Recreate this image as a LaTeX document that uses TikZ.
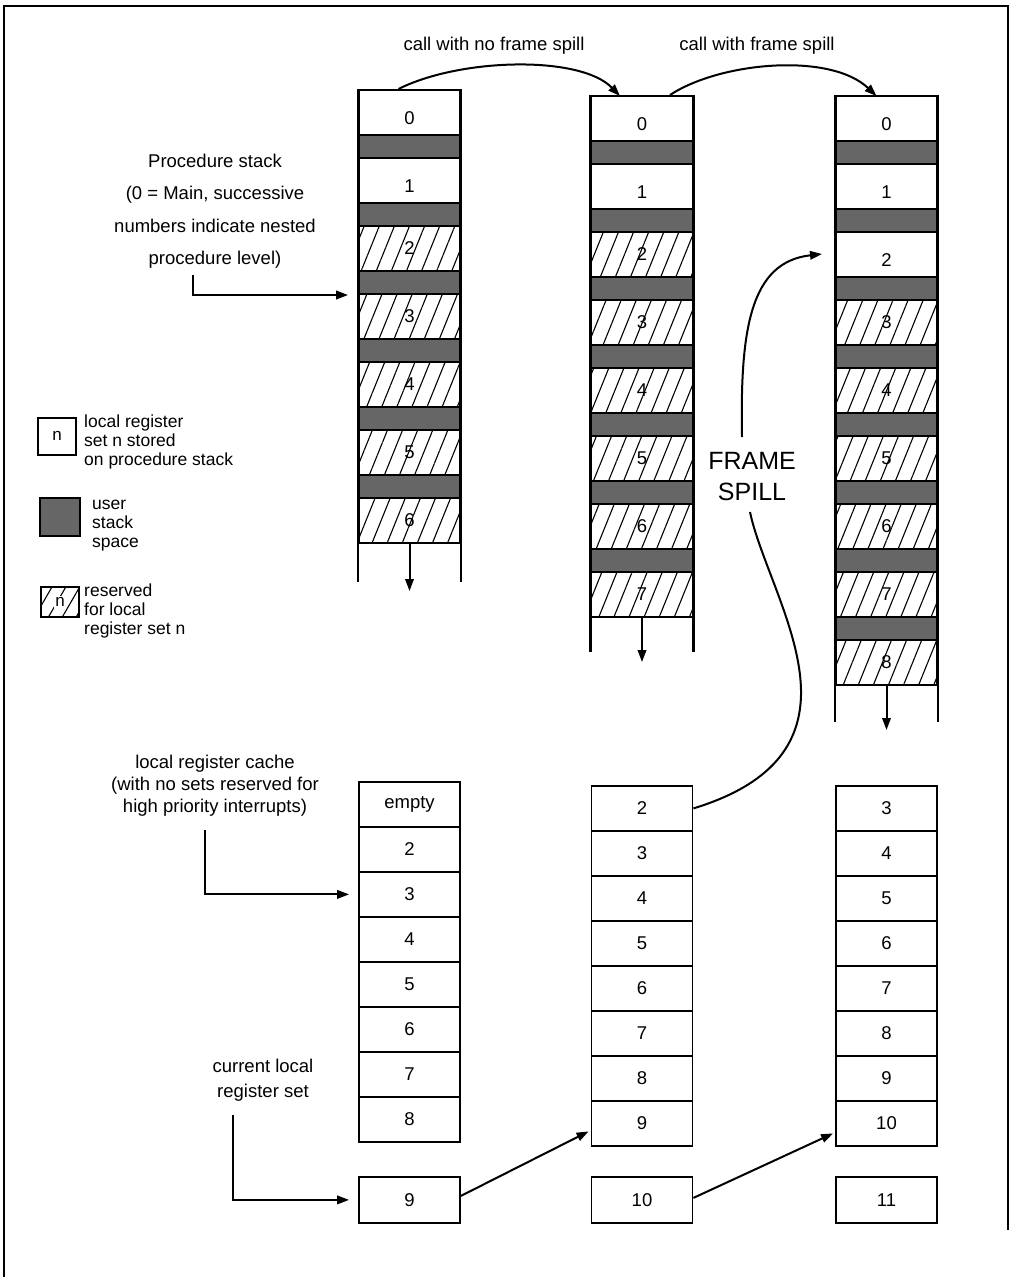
\documentclass[tikz,border=0pt]{standalone}
\usepackage{fontspec}
\setmainfont{Liberation Sans}
\usetikzlibrary{patterns.meta,arrows.meta}
\newcommand\drawstackcol[5]{%
  \foreach \i in {0,...,#4} {%
    \pgfmathsetmacro\ty{#3+68*\i}%
    \ifnum\i<#5\relax
      \node[whitebox] (#1-\i) at (#2,\ty) {};
      \node[numlbl,yshift=-6pt] (#1-t\i) at (#1-\i.center) {\i};
    \else
      \node[hatchbox] (#1-\i) at (#2,\ty) {};
      \node[numlbl] (#1-t\i) at (#1-\i.center) {\i};
    \fi
    \ifnum\i<#4\relax
      \node[darkband] (#1-d\i) at (#2,\ty+45) {};
    \fi
  }%
}
\newcommand\drawcachecol[4]{%
  \foreach \t [count=\k from 0] in {#4} {%
    \node[cachebox] (#1-\k) at (#2,#3+45*\k) {\t};
  }%
}
\begin{document}
\begin{tikzpicture}[x=1pt,y=-1pt,
  box/.style={draw,line width=1.8pt,minimum width=101pt,minimum height=45pt,inner sep=0pt,anchor=north},
  whitebox/.style={box,fill=white},
  hatchbox/.style={box,pattern={Lines[angle=68,distance=14pt,line width=1.1pt]}},
  darkband/.style={draw,line width=1.8pt,fill=black!60,minimum width=101pt,minimum height=23pt,inner sep=0pt,anchor=north},
  cachebox/.style={draw,line width=1.8pt,minimum width=101pt,minimum height=45pt,inner sep=0pt,anchor=north,font=\fontsize{18.5}{20}\selectfont},
  numlbl/.style={font=\fontsize{18.5}{20}\selectfont,inner sep=0pt},
  lbl/.style={font=\fontsize{18.5}{22}\selectfont,align=center,inner sep=0pt},
  leg/.style={font=\fontsize{17.5}{19}\selectfont,align=left,inner sep=0pt,anchor=west},
  arr/.style={line width=2pt,-{Triangle[length=12pt,width=8.5pt]}},
  side/.style={line width=2.6pt}
]
\useasboundingbox (0,0) rectangle (1011,1277);
% frame
\draw[line width=1.5pt] (4,1277) -- (4,6) -- (1008,6) -- (1008,1230);

% procedure stacks
\drawstackcol{sa}{409.5}{89}{6}{2}
\drawstackcol{sb}{642}{95}{7}{2}
\drawstackcol{sc}{886.5}{95}{8}{3}

% side lines and down arrows
\coordinate (sa-end) at (409.5,582);
\coordinate (sa-tip) at (409.5,591);
\coordinate (sb-end) at (642,652);
\coordinate (sb-tip) at (642,662);
\coordinate (sc-end) at (886.5,722);
\coordinate (sc-tip) at (886.5,730);
\foreach \c in {sa,sb,sc} {
  \draw[side] (\c-0.north west) -- (\c-0.north west |- \c-end);
  \draw[side] (\c-0.north east) -- (\c-0.north east |- \c-end);
}
\draw[arr] (sa-6.south) -- (sa-tip);
\draw[arr] (sb-7.south) -- (sb-tip);
\draw[arr] (sc-8.south) -- (sc-tip);

% call arrows
\node[lbl] (tcall1) at (494,46) {call with no frame spill};
\node[lbl] (tcall2) at (757,46) {call with frame spill};
\draw[arr] ([xshift=-11pt]sa-0.north) .. controls (460,58) and (580,55) .. ([xshift=-22pt,yshift=-1pt]sb-0.north);
\draw[arr] ([xshift=28pt]sb-0.north) .. controls (720,62) and (830,52) .. ([xshift=-10pt,yshift=-1pt]sc-0.north);

% register caches
\drawcachecol{ca}{409.5}{781}{empty,2,3,4,5,6,7,8}
\drawcachecol{cb}{642}{785}{2,3,4,5,6,7,8,9}
\drawcachecol{cc}{886.5}{785}{3,4,5,6,7,8,9,10}

% current register sets
\node[cachebox,minimum height=46pt] (ra) at (409.5,1176) {9};
\node[cachebox,minimum height=46pt] (rb) at (642,1176) {10};
\node[cachebox,minimum height=46pt] (rc) at (886.5,1176) {11};
\draw[arr] ([yshift=4pt]ra.east) -- ([xshift=-2pt,yshift=-8pt]cb-7.west);
\draw[arr] ([yshift=2pt]rb.east) -- ([xshift=-2pt,yshift=-10pt]cc-7.west);

% frame spill
\node[font=\fontsize{25}{31}\selectfont,align=center,inner sep=0pt] (tspill) at (752,477) {FRAME\\SPILL};
\coordinate (fs-mid) at (742,437);
\coordinate (fs-tip) at (822,254);
\draw[line width=2pt] (cb-0.east) .. controls (770,785) and (802,745) .. (801,690)
  .. controls (800,630) and (760,560) .. (750,512);
\draw[arr] (fs-mid) .. controls (740,330) and (750,262) .. (fs-tip);

% left labels and pointers
\node[lbl,font=\fontsize{18.5}{32.5}\selectfont] (tproc) at (215,211)
  {Procedure stack\\(0 = Main, successive\\numbers indicate nested\\procedure level)};
\coordinate (pa) at (193,275);
\draw[arr] (pa) |- ([xshift=-10pt,yshift=-2pt]sa-3.north west);

\node[lbl,font=\fontsize{18.5}{22}\selectfont] (tcache) at (215,786)
  {local register cache\\(with no sets reserved for\\high priority interrupts)};
\coordinate (pb) at (205,830);
\draw[arr] (pb) |- ([xshift=-9pt]ca-2.west);

\node[lbl,font=\fontsize{18.5}{25}\selectfont] (tcur) at (263,1080)
  {current local\\register set};
\coordinate (pc) at (233,1115);
\draw[arr] (pc) |- ([xshift=-9pt]ra.west);

% legend
\node[draw,line width=2pt,minimum width=38pt,minimum height=37pt,inner sep=0pt,font=\fontsize{17}{19}\selectfont] (lga) at (57,436) {n};
\node[leg] (lgat) at (84,442) {local register\\set n stored\\on procedure stack};
\node[draw,line width=2pt,fill=black!60,minimum width=40pt,minimum height=38pt,inner sep=0pt] (lgb) at (60,517) {};
\node[leg] (lgbt) at (92,526) {user\\stack\\space};
\node[draw,line width=2pt,pattern={Lines[angle=60,distance=12pt,line width=1.1pt]},minimum width=38pt,minimum height=30pt,inner sep=0pt] (lgc) at (60,602) {};
\node[font=\fontsize{17}{19}\selectfont,fill=white,inner sep=1pt] (lgcn) at (lgc.center) {n};
\node[leg] (lgct) at (84,611) {reserved\\for local\\register set n};
\end{tikzpicture}
\end{document}
